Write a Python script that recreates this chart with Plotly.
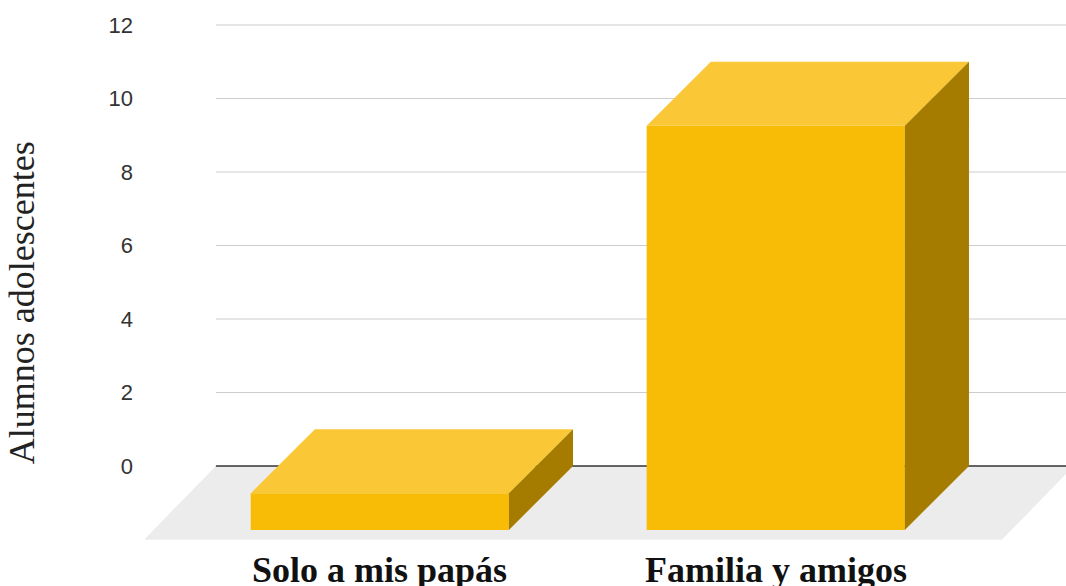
import plotly.graph_objects as go

# data
categories = ["Solo a mis papás", "Familia y amigos"]
values = [1, 11]
y_ticks = [0, 2, 4, 6, 8, 10, 12]

# colours
front_color = "#F9BC06"
top_color = "#FAC737"
side_color = "#A67C00"
floor_color = "#ECECEC"
grid_color = "#CCCCCC"
zero_color = "#333333"

# geometry of the fake 3d look (axis units)
x_range = [-0.755, 1.571]
y_range = [-2.15, 12.136]
bar_w = 0.652
depth_x = 0.162
depth_y = 1.74
floor_pad = 0.25
floor_dx = 0.182
floor_dy = 2.01

pos = list(range(len(categories)))


def face(xs, ys, color):
    return go.Scatter(x=xs + xs[:1], y=ys + ys[:1], mode="lines", fill="toself",
                      fillcolor=color, line=dict(width=0),
                      hoverinfo="skip", showlegend=False)


fig = go.Figure()

# floor
fl_left = pos[0] - bar_w / 2 - floor_pad
fl_right = pos[-1] + bar_w / 2 + floor_pad + 0.015
fig.add_trace(face([fl_left, fl_right, fl_right - floor_dx, fl_left - floor_dx],
                   [0, 0, -floor_dy, -floor_dy], floor_color))

# zero line
fig.add_trace(go.Scatter(
    x=[fl_left, x_range[1]], y=[0, 0], mode="lines",
    line=dict(color=zero_color, width=1.6), hoverinfo="skip", showlegend=False))

# bars: front, top, side
for p, v in zip(pos, values):
    x0 = p - bar_w / 2
    x1 = p + bar_w / 2
    fig.add_trace(face([x0 - depth_x, x1 - depth_x, x1 - depth_x, x0 - depth_x],
                       [-depth_y, -depth_y, v - depth_y, v - depth_y], front_color))
    fig.add_trace(face([x0 - depth_x, x1 - depth_x, x1, x0],
                       [v - depth_y, v - depth_y, v, v], top_color))
    fig.add_trace(face([x1 - depth_x, x1, x1, x1 - depth_x],
                       [v - depth_y, v, 0, -depth_y], side_color))

# gridlines start at the back corner of the floor
for t in y_ticks[1:]:
    fig.add_shape(type="line", xref="x", yref="y", x0=fl_left, x1=x_range[1],
                  y0=t, y1=t, line=dict(color=grid_color, width=1), layer="below")

# category labels under the front faces
for p, c in zip(pos, categories):
    fig.add_annotation(
        text="<b>" + c + "</b>", xref="x", x=p - depth_x, xanchor="center",
        yref="paper", y=0, yshift=-25, yanchor="middle", showarrow=False,
        font=dict(family="Liberation Serif", size=36, color="#111111"))

fig.add_annotation(
    text="Alumnos adolescentes", textangle=-90,
    xref="paper", x=0, xshift=-123, xanchor="center",
    yref="y", y=4.43, yanchor="middle", showarrow=False,
    font=dict(family="Liberation Serif", size=36, color="#222222"))

fig.update_layout(
    width=1066, height=586,
    margin=dict(l=145, r=0, t=20, b=41),
    paper_bgcolor="white", plot_bgcolor="white",
    xaxis=dict(range=x_range, showgrid=False, zeroline=False,
               showticklabels=False, ticks="", automargin=False),
    yaxis=dict(range=y_range, showgrid=False, zeroline=False, automargin=False,
               tickvals=y_ticks, ticks="", ticklabelstandoff=11,
               tickfont=dict(family="Liberation Sans", size=22, color="#333333")),
)

# drop the default page margin so the figure fills the window
fig.write_html("out.html",
               config={"displayModeBar": False},
               post_script="document.body.style.margin='0';"
                           "document.body.style.overflow='hidden';")
